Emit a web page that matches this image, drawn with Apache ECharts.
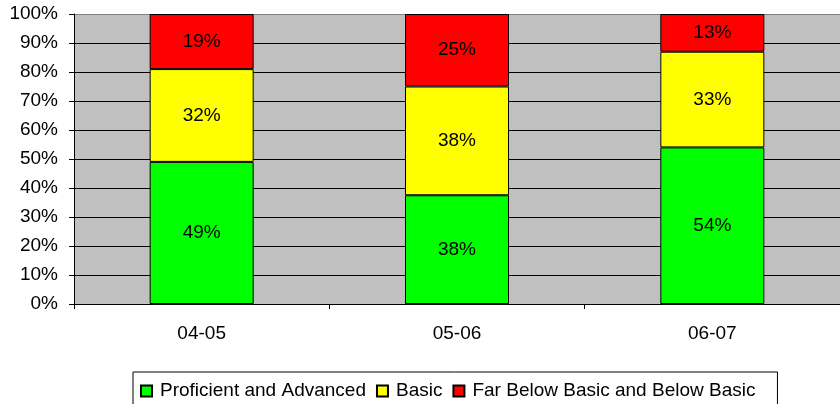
<!DOCTYPE html>
<html>
<head>
<meta charset="utf-8">
<script src="https://cdn.jsdelivr.net/npm/echarts@6/dist/echarts.min.js"></script>
<style>html,body{margin:0;padding:0;background:#fff}#c{width:840px;height:404px}</style>
</head>
<body>
<div id="c"></div>
<script>
const categories = ['04-05', '05-06', '06-07'];
const proficient = [49, 37.5, 54];
const basic = [32, 37.5, 33];
const farBelow = [19, 25, 13];
const yTicks = [0, 10, 20, 30, 40, 50, 60, 70, 80, 90, 100];

const chart = echarts.init(document.getElementById('c'));
const font = 'Arial, "Liberation Sans", sans-serif';
const FS = 19;
const lbl = {
  show: true, position: 'inside', color: '#000', fontSize: FS, fontFamily: font,
  formatter: p => Math.round(p.value) + '%'
};
function ser(name, data, color) {
  return {
    name, type: 'bar', stack: 's', data, barWidth: 104,
    itemStyle: { color, borderColor: '#000', borderWidth: 1 },
    label: lbl, emphasis: { disabled: true }
  };
}
const splitColors = yTicks.map((v, i) => i === yTicks.length - 1 ? '#808080' : '#000');
chart.setOption({
  animation: false,
  grid: { left: 74, top: 14, width: 768, height: 290, show: true, backgroundColor: '#C0C0C0', borderWidth: 0 },
  legend: {
    top: 372, left: 133,
    padding: [8, 22, 12, 7],
    borderColor: '#000', borderWidth: 1,
    itemWidth: 11, itemHeight: 11, itemGap: 10,
    icon: 'rect',
    textStyle: { fontSize: FS, fontFamily: font, color: '#000', lineHeight: 22, padding: [0, 0, 0, 3] },
    data: ['Proficient and Advanced', 'Basic', 'Far Below Basic and Below Basic']
  },
  xAxis: {
    type: 'category', data: categories,
    axisLine: { lineStyle: { color: '#000', width: 1 } },
    axisTick: { show: true, length: 5, lineStyle: { color: '#000' } },
    axisLabel: { color: '#000', fontSize: FS, fontFamily: font, margin: 20 }
  },
  yAxis: {
    type: 'value', min: 0, max: 100, interval: 10,
    axisLine: { show: true, lineStyle: { color: '#000', width: 1 } },
    axisTick: { show: true, length: 5, lineStyle: { color: '#000' } },
    axisLabel: { color: '#000', fontSize: FS, fontFamily: font, margin: 16, formatter: v => v + '%' },
    splitLine: { show: true, lineStyle: { color: splitColors, width: 1.2 } }
  },
  series: [
    ser('Proficient and Advanced', proficient, '#00FF00'),
    ser('Basic', basic, '#FFFF00'),
    ser('Far Below Basic and Below Basic', farBelow, '#FF0000')
  ]
});
</script>
</body>
</html>
